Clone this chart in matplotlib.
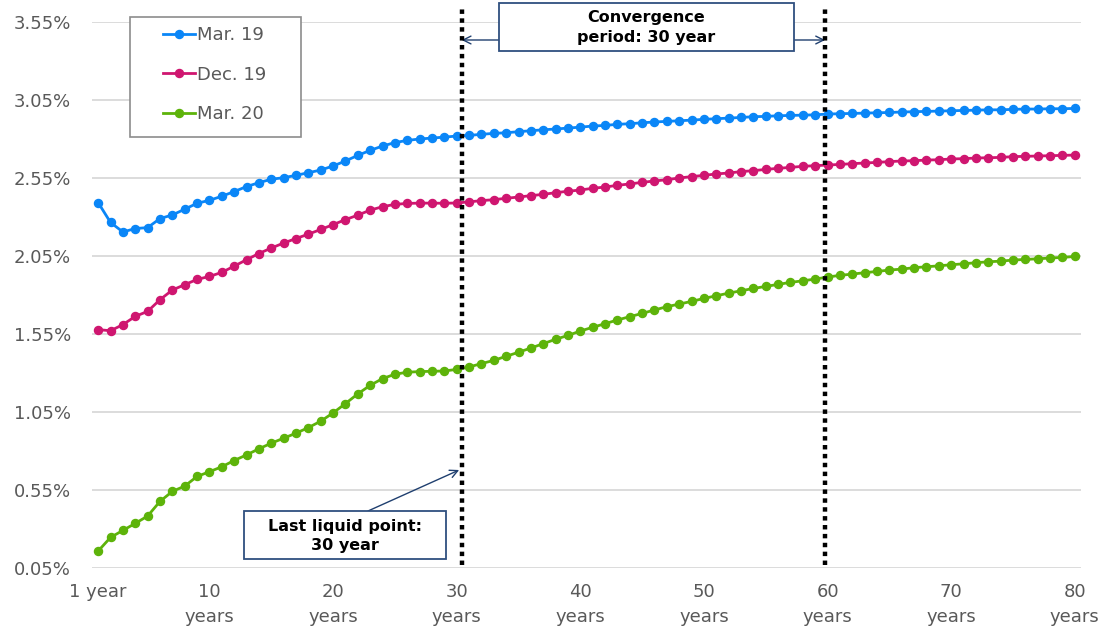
import matplotlib.pyplot as plt
from matplotlib.patches import Rectangle

plt.rcParams["font.family"] = "DejaVu Sans"

years = list(range(1, 81))

mar19 = [
    2.392, 2.265, 2.204, 2.226, 2.232, 2.290, 2.313, 2.350, 2.388, 2.407,
    2.433, 2.463, 2.495, 2.520, 2.542, 2.552, 2.567, 2.584, 2.601, 2.627,
    2.659, 2.695, 2.727, 2.755, 2.777, 2.791, 2.800, 2.806, 2.812, 2.819,
    2.823, 2.830, 2.836, 2.840, 2.847, 2.853, 2.859, 2.864, 2.870, 2.876,
    2.883, 2.887, 2.894, 2.898, 2.904, 2.909, 2.913, 2.917, 2.921, 2.926,
    2.930, 2.934, 2.938, 2.943, 2.945, 2.949, 2.951, 2.953, 2.955, 2.960,
    2.962, 2.964, 2.966, 2.968, 2.970, 2.973, 2.975, 2.977, 2.979, 2.981,
    2.983, 2.985, 2.987, 2.987, 2.990, 2.992, 2.992, 2.994, 2.994, 2.996,
]

dec19 = [
    1.578, 1.571, 1.610, 1.663, 1.695, 1.770, 1.832, 1.866, 1.900, 1.919,
    1.945, 1.985, 2.026, 2.066, 2.101, 2.133, 2.162, 2.190, 2.220, 2.251,
    2.283, 2.312, 2.344, 2.366, 2.381, 2.387, 2.389, 2.389, 2.388, 2.390,
    2.397, 2.405, 2.411, 2.420, 2.428, 2.437, 2.445, 2.456, 2.465, 2.473,
    2.484, 2.492, 2.503, 2.512, 2.522, 2.531, 2.539, 2.550, 2.559, 2.567,
    2.576, 2.582, 2.591, 2.597, 2.605, 2.612, 2.618, 2.625, 2.629, 2.633,
    2.637, 2.642, 2.646, 2.650, 2.655, 2.659, 2.661, 2.665, 2.667, 2.672,
    2.674, 2.678, 2.680, 2.682, 2.687, 2.689, 2.691, 2.693, 2.695, 2.697,
]

mar20 = [
    0.159, 0.246, 0.291, 0.336, 0.383, 0.477, 0.541, 0.575, 0.637, 0.667,
    0.699, 0.739, 0.775, 0.814, 0.850, 0.882, 0.914, 0.950, 0.991, 1.044,
    1.104, 1.166, 1.221, 1.264, 1.292, 1.305, 1.309, 1.311, 1.313, 1.323,
    1.339, 1.360, 1.381, 1.407, 1.433, 1.460, 1.488, 1.516, 1.541, 1.569,
    1.593, 1.616, 1.640, 1.661, 1.682, 1.704, 1.725, 1.742, 1.759, 1.778,
    1.795, 1.812, 1.827, 1.842, 1.855, 1.868, 1.881, 1.891, 1.902, 1.915,
    1.926, 1.934, 1.943, 1.951, 1.960, 1.966, 1.975, 1.981, 1.987, 1.994,
    2.000, 2.007, 2.013, 2.017, 2.024, 2.028, 2.032, 2.037, 2.041, 2.047,
]

series = [
    ("Mar. 19", mar19, "#0A86F7"),
    ("Dec. 19", dec19, "#CF1670"),
    ("Mar. 20", mar20, "#5DB30A"),
]

x_ticks = [1, 10, 20, 30, 40, 50, 60, 70, 80]
x_labels = ["1 year"] + [f"{t}\nyears" for t in x_ticks[1:]]
y_ticks = [0.05, 0.55, 1.05, 1.55, 2.05, 2.55, 3.05, 3.55]

liquid_point = 30.4
convergence_end = 59.8

W, H = 1105, 630
fig = plt.figure(figsize=(W / 100, H / 100), dpi=100)
ax = fig.add_axes([92 / W, 62 / H, 989 / W, 546 / H])


def fig_box(x0, y0, x1, y1):
    # rectangle given in pixels from the top-left corner
    return Rectangle((x0 / W, 1 - y1 / H), (x1 - x0) / W, (y1 - y0) / H,
                     transform=fig.transFigure, fc="white", zorder=5)


for label, vals, color in series:
    ax.plot(years, vals, color=color, lw=2.0, marker="o", ms=5.8,
            label=label, zorder=3)

ax.set_xlim(0.5, 80.5)
ax.set_ylim(0.05, 3.55)
ax.set_yticks(y_ticks)
ax.set_yticklabels([f"{v:.2f}%" for v in y_ticks])
ax.set_xticks(x_ticks)
ax.set_xticklabels(x_labels, linespacing=1.45, va="top")
ax.tick_params(length=0, labelsize=13, labelcolor="#595959")
ax.tick_params(axis="y", pad=15)
ax.tick_params(axis="x", pad=11)
ax.grid(axis="y", color="#D9D9D9", lw=1.3)
ax.set_axisbelow(True)
for s in ax.spines.values():
    s.set_visible(False)

# dotted markers for last liquid point and end of convergence
for xv in (liquid_point, convergence_end):
    ax.axvline(xv, ymin=0.006, ymax=1.026, color="black", lw=3.2,
               ls=(0, (1, 1)), clip_on=False, zorder=4)

# legend frame drawn separately so the padding can be wider than tall
frame = fig_box(130, 17, 301, 137)
frame.set_edgecolor("#8C8C8C")
frame.set_linewidth(1.2)
fig.patches.append(frame)
leg = fig.legend(loc="upper left", bbox_to_anchor=(163 / W, 1 - 26 / H),
                 fontsize=13, labelspacing=1.2, handlelength=1.75,
                 handletextpad=0.15, borderpad=0, borderaxespad=0,
                 frameon=False, labelcolor="#595959")
leg.set_zorder(6)

arrow = dict(arrowstyle="->", color="#1F3F6F", lw=1.0,
             mutation_scale=14, shrinkA=0, shrinkB=0)
edge = "#2F4F7F"

# convergence period label with arrows to both dotted lines
conv = fig_box(499, 3, 794, 51)
conv.set_edgecolor(edge)
conv.set_linewidth(1.3)
fig.patches.append(conv)
fig.text(646.5 / W, 1 - 27.5 / H, "Convergence\nperiod: 30 year",
         ha="center", va="center", fontsize=11.5, fontweight="bold",
         linespacing=1.35, zorder=6)
ax.annotate("", xy=(liquid_point, H - 40), xytext=(499 / W, 1 - 40 / H),
            xycoords=("data", "figure pixels"), textcoords="figure fraction",
            arrowprops=arrow, annotation_clip=False)
ax.annotate("", xy=(convergence_end, H - 40), xytext=(794 / W, 1 - 40 / H),
            xycoords=("data", "figure pixels"), textcoords="figure fraction",
            arrowprops=arrow, annotation_clip=False)

# last liquid point label
liq = fig_box(244, 511, 446, 559)
liq.set_edgecolor(edge)
liq.set_linewidth(1.3)
fig.patches.append(liq)
fig.text(345 / W, 1 - 536 / H, "Last liquid point:\n30 year",
         ha="center", va="center", fontsize=11.5, fontweight="bold",
         linespacing=1.3, zorder=6)
ax.annotate("", xy=(liquid_point - 0.2, H - 470),
            xytext=(368 / W, 1 - 511 / H),
            xycoords=("data", "figure pixels"), textcoords="figure fraction",
            arrowprops=arrow, annotation_clip=False)

fig.savefig("out.png", dpi=100)
